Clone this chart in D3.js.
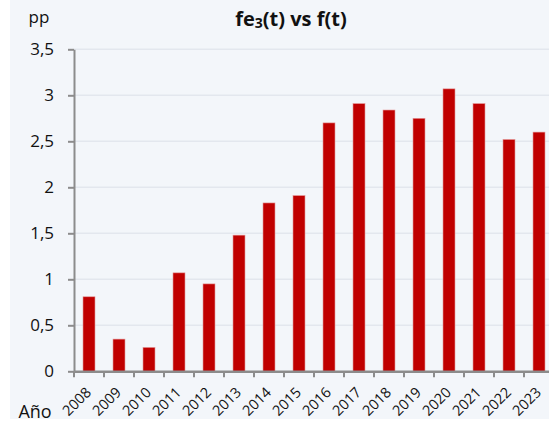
<!DOCTYPE html>
<html><head><meta charset="utf-8">
<script src="https://cdn.jsdelivr.net/npm/d3@7"></script>
<style>html,body{margin:0;padding:0;background:#fff;}svg{display:block;}</style>
</head><body>
<svg id="c" width="549" height="424"></svg>
<script>
const years = ["2008","2009","2010","2011","2012","2013","2014","2015","2016","2017","2018","2019","2020","2021","2022","2023"];
const values = [0.81,0.35,0.26,1.07,0.95,1.48,1.83,1.91,2.70,2.91,2.84,2.75,3.07,2.91,2.52,2.60];
const yTicks = [0,0.5,1,1.5,2,2.5,3,3.5];

(function(){
const svg = d3.select("#c");
const font = "'Open Sans', 'Noto Sans', sans-serif";
svg.append("rect").attr("x",10).attr("y",0).attr("width",539).attr("height",419).attr("fill","#F3F6FA");

const pl = 74, pt = 49.3, pb = 371.3, pw = 480;
const x = d3.scaleBand().domain(years).range([pl, pl+pw]).paddingInner(0.6).paddingOuter(0.3);
const y = d3.scaleLinear().domain([0,3.5]).range([pb, pt]);
const fmt = d => String(d).replace(".", ",");

// gridlines
svg.append("g").selectAll("line").data(yTicks.filter(d=>d>0)).join("line")
  .attr("x1", pl).attr("x2", pl+pw)
  .attr("y1", d=>y(d)).attr("y2", d=>y(d))
  .attr("stroke","#E3E7EE").attr("stroke-width",1.5);

// bars
svg.append("g").selectAll("rect").data(years).join("rect")
  .attr("x", d=>x(d)).attr("width", x.bandwidth())
  .attr("y", (d,i)=>y(values[i])).attr("height", (d,i)=>y(0)-y(values[i]))
  .attr("fill","#C00000").attr("stroke","#E49A9A").attr("stroke-width",0.6);

// y axis
const yAxis = svg.append("g").attr("transform",`translate(${pl},0)`)
  .call(d3.axisLeft(y).tickValues(yTicks).tickFormat(fmt).tickSizeInner(6).tickSizeOuter(0).tickPadding(14));
yAxis.select(".domain").attr("stroke","#8C8C8C").attr("stroke-width",2);
yAxis.selectAll(".tick line").attr("stroke","#8C8C8C").attr("stroke-width",2);
yAxis.selectAll(".tick text").attr("font-family",font).attr("font-size",17).attr("fill","#111");

// x axis
const xTickPos = years.map((d,i)=> pl + i*(pw/years.length));
const xAxis = svg.append("g").attr("transform",`translate(0,${pb})`)
  .call(d3.axisBottom(x).tickSize(0).tickPadding(0));
xAxis.select(".domain").attr("stroke","#8C8C8C").attr("stroke-width",2.5);
xAxis.selectAll(".tick text")
  .attr("font-family",font).attr("font-size",14.5).attr("fill","#111")
  .attr("text-anchor","end").attr("dy","0")
  .attr("transform","translate(3,22) rotate(-45)");
svg.append("g").selectAll("line").data(xTickPos).join("line")
  .attr("x1",d=>d).attr("x2",d=>d).attr("y1",pb).attr("y2",pb+6)
  .attr("stroke","#8C8C8C").attr("stroke-width",2);

// title & labels
const t = svg.append("text").attr("x",291).attr("y",26).attr("text-anchor","middle")
  .attr("font-family",font).attr("font-size",20).attr("font-weight","bold").attr("fill","#111");
t.append("tspan").text("fe");
t.append("tspan").text("3").attr("font-size",14).attr("dy",2);
t.append("tspan").text("(t) vs f(t)").attr("dy",-2);
svg.append("text").attr("x",39).attr("y",23).attr("text-anchor","middle")
  .attr("font-family",font).attr("font-size",17).attr("fill","#111").text("pp");
svg.append("text").attr("x",35).attr("y",418).attr("text-anchor","middle")
  .attr("font-family",font).attr("font-size",18).attr("fill","#111").text("Año");
})();
</script>
</body></html>
